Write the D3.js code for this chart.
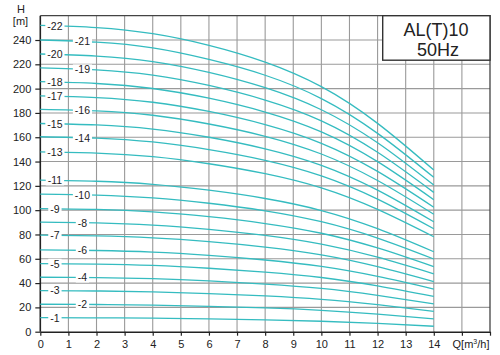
<!DOCTYPE html>
<html><head><meta charset="utf-8">
<script src="https://cdn.jsdelivr.net/npm/d3@7"></script>
<style>
html,body{margin:0;padding:0;background:#fff;}
svg{display:block;font-family:"Liberation Sans",Arial,Helvetica,sans-serif;}
</style></head>
<body><svg id="c" width="500" height="355"></svg>
<script>
// ---- data ----
const flows = [0, 2, 4, 6, 8, 10, 12, 14];            // Q [m3/h]
const stages = [22,21,20,19,18,17,16,15,14,13,11,10,9,8,7,6,5,4,3,2,1];
const heads = [
  [252, 250.2, 245.2, 235.6, 221.8, 201.6, 171.4, 133],
  [240, 238.2, 233.5, 224, 211, 191.8, 163.2, 127],
  [228.5, 226.8, 222.3, 213.4, 200.8, 182.6, 155.4, 120.6],
  [217, 215.4, 211.1, 202.6, 190.6, 173.5, 147.6, 114.6],
  [205.7, 204.2, 200.1, 192.1, 180.7, 164.4, 139.9, 108.6],
  [194, 192.6, 188.8, 181.2, 170.4, 155, 131.9, 102.4],
  [183, 181.7, 178.1, 170.9, 160.8, 146.2, 124.4, 96.6],
  [171.3, 170.1, 166.7, 160, 150.5, 136.9, 116.5, 90.4],
  [160.4, 159.3, 156.1, 149.8, 141, 128.2, 109.1, 84.7],
  [148, 147, 144, 138.2, 130, 118.3, 100.6, 78.1],
  [124.7, 123.8, 121.3, 116.4, 109.6, 99.7, 84.8, 65.8],
  [113.2, 112.4, 110.1, 105.7, 99.5, 90.5, 77, 59.8],
  [101.3, 100.6, 98.6, 94.6, 89, 81, 68.9, 53.5],
  [90.1, 89.5, 87.7, 84.2, 79.2, 72, 61.3, 47.6],
  [79.4, 78.8, 77.2, 74.1, 69.6, 63.2, 53.5, 41.2],
  [67.3, 66.8, 65.5, 62.8, 59, 53.7, 45.5, 35.1],
  [56, 55.6, 54.5, 52.2, 49, 44.6, 37.7, 29],
  [44.8, 44.5, 43.6, 41.8, 39.2, 35.6, 29.9, 22.9],
  [33.8, 33.5, 32.8, 31.4, 29.4, 26.6, 22.2, 16.7],
  [22.6, 22.4, 21.9, 20.9, 19.6, 17.6, 14.5, 10.6],
  [11.5, 11.4, 11.1, 10.6, 9.8, 8.6, 6.8, 4.5]
];
// label column for each stage: 0 = near Q 0.5, 1 = near Q 1.5
const labelSlot = [0,1,0,1,0,0,1,0,1,0,0,1,0,1,0,1,0,1,0,1,0];
const xTicks = [0,1,2,3,4,5,6,7,8,9,10,11,12,13,14,15,16];
const xTickLabels = ["0","1","2","3","4","5","6","7","8","9","10","11","12","13","14","",""];
const yTicks = [0,20,40,60,80,100,120,140,160,180,200,220,240];
const titleLines = ["AL(T)10", "50Hz"];

// ---- layout ----
const svg = d3.select("#c");
const x = d3.scaleLinear().domain([0, 16]).range([40.3, 490]);
const y = d3.scaleLinear().domain([0, 260]).range([331.7, 15.7]);
const gridCol = "#9a9a9a", axisCol = "#222", txt = "#222";

// grid
svg.append("g").selectAll("line").data(xTicks.filter(d => d > 0 && d < 16)).join("line")
  .attr("x1", d => x(d)).attr("x2", d => x(d)).attr("y1", y(0)).attr("y2", y(260))
  .attr("stroke", gridCol).attr("stroke-width", 1.1);
svg.append("g").selectAll("line").data(yTicks.filter(d => d > 0)).join("line")
  .attr("x1", x(0)).attr("x2", x(16)).attr("y1", d => y(d)).attr("y2", d => y(d))
  .attr("stroke", gridCol).attr("stroke-width", 1.1);

// frame top/right
svg.append("path").attr("d", `M${x(0)},${y(260)}H${x(16)}V${y(0)}`)
  .attr("fill", "none").attr("stroke", "#444").attr("stroke-width", 1.3);

// axes
const yAxis = svg.append("g").attr("transform", `translate(${x(0)},0)`)
  .call(d3.axisLeft(y).tickValues(yTicks).tickSize(5).tickSizeOuter(0).tickPadding(4));
const xAxis = svg.append("g").attr("transform", `translate(0,${y(0)})`)
  .call(d3.axisBottom(x).tickValues(xTicks).tickFormat((d, i) => xTickLabels[i]).tickSize(4).tickSizeOuter(0).tickPadding(5));
[yAxis, xAxis].forEach(g => {
  g.select(".domain").attr("stroke", axisCol).attr("stroke-width", 1.6);
  g.selectAll(".tick line").attr("stroke", axisCol).attr("stroke-width", 1.2);
  g.selectAll(".tick text").attr("fill", txt).style("font-size", "11px")
    .style("font-family", "'Liberation Sans',Arial,sans-serif");
});
yAxis.select(".domain").attr("d", `M0,${y(0)}V${y(260)}`);

// curves
const line = d3.line().x((d, i) => x(flows[i])).y(d => y(d)).curve(d3.curveNatural);
svg.append("g").selectAll("path").data(heads).join("path")
  .attr("d", d => line(d)).attr("fill", "none")
  .attr("stroke", "#35bcc0").attr("stroke-width", 1.3);

// stage labels
const labX = [0.52, 1.5];
const lg = svg.append("g");
stages.forEach((s, i) => {
  const q = labX[labelSlot[i]];
  const h = heads[i][0] + (heads[i][1] - heads[i][0]) * q / 2;
  const g = lg.append("g").attr("transform", `translate(${x(q)},${y(h)})`);
  const t = g.append("text").text("-" + s).attr("text-anchor", "middle").attr("dy", "0.36em")
    .attr("fill", txt).style("font-size", "10.5px");
  const w = t.node().getComputedTextLength();
  g.insert("rect", "text").attr("x", -w / 2 - 2).attr("y", -5).attr("width", w + 4).attr("height", 10).attr("fill", "#fff");
});

// axis titles
svg.append("text").attr("x", 21).attr("y", 13).attr("text-anchor", "middle").attr("fill", txt).style("font-size", "11px").text("H");
svg.append("text").attr("x", 20.5).attr("y", 25).attr("text-anchor", "middle").attr("fill", txt).style("font-size", "11px").text("[m]");
const qt = svg.append("text").attr("x", 471).attr("y", 348).attr("text-anchor", "middle").attr("fill", txt).style("font-size", "11px");
qt.append("tspan").text("Q[m");
qt.append("tspan").text("3").style("font-size", "7px").attr("dy", -4);
qt.append("tspan").text("/h]").attr("dy", 4);

// title box
svg.append("rect").attr("x", 382.7).attr("y", y(260)).attr("width", x(16) - 382.7).attr("height", 44.5)
  .attr("fill", "#fff").attr("stroke", "#333").attr("stroke-width", 1.4);
svg.append("text").attr("x", 436).attr("y", 36).attr("text-anchor", "middle").attr("fill", txt).style("font-size", "18px").text(titleLines[0]);
svg.append("text").attr("x", 438).attr("y", 55.5).attr("text-anchor", "middle").attr("fill", txt).style("font-size", "18px").text(titleLines[1]);
</script></body></html>
